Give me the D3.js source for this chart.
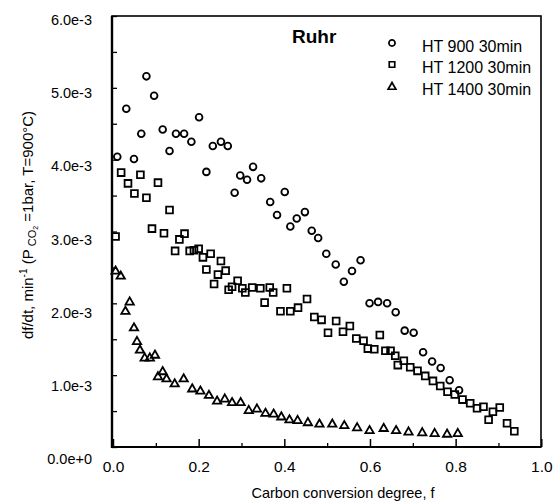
<!DOCTYPE html>
<html>
<head>
<meta charset="utf-8">
<script src="https://cdn.jsdelivr.net/npm/d3@7"></script>
<style>
  html, body { margin: 0; padding: 0; background: #fff; }
  svg { display: block; font-family: "Liberation Sans", Arial, sans-serif; }
</style>
</head>
<body>
<svg id="chart" width="558" height="501"></svg>
<script>
// ---- data (rate in units of 1e-3 min^-1) ----
const ht900F = [0.010,0.031,0.049,0.066,0.078,0.096,0.116,0.132,0.147,0.166,0.183,0.201,0.218,0.233,0.252,0.268,0.284,0.297,0.313,0.327,0.346,0.367,0.383,0.401,0.414,0.429,0.448,0.464,0.479,0.498,0.520,0.539,0.558,0.578,0.599,0.619,0.640,0.660,0.681,0.702,0.724,0.745,0.765,0.786,0.808];
const ht900Rate = [4.04,4.71,4.01,4.36,5.16,4.89,4.42,4.12,4.36,4.36,4.25,4.59,3.83,4.19,4.25,4.19,3.54,3.78,3.72,3.90,3.74,3.41,3.23,3.55,3.07,3.18,3.27,3.01,2.91,2.69,2.54,2.30,2.45,2.60,2.00,2.02,2.00,1.875,1.62,1.59,1.32,1.19,1.10,0.93,0.79];

const ht1200F = [0.006,0.019,0.035,0.050,0.064,0.078,0.091,0.105,0.119,0.132,0.145,0.155,0.167,0.179,0.189,0.200,0.210,0.218,0.228,0.236,0.245,0.252,0.263,0.270,0.278,0.291,0.302,0.309,0.325,0.344,0.354,0.366,0.374,0.391,0.406,0.414,0.432,0.453,0.470,0.487,0.502,0.521,0.537,0.553,0.568,0.585,0.595,0.610,0.623,0.636,0.648,0.659,0.665,0.679,0.694,0.711,0.729,0.747,0.764,0.781,0.798,0.816,0.834,0.850,0.865,0.877,0.887,0.903,0.920,0.937];
const ht1200Rate = [2.93,3.82,3.67,3.53,3.79,3.47,3.04,3.68,2.975,3.30,2.73,2.89,2.97,2.73,2.74,2.76,2.64,2.47,2.69,2.27,2.40,2.59,2.455,2.19,2.23,2.315,2.21,2.15,2.22,2.21,2.01,2.22,2.15,1.89,2.21,1.89,1.94,2.06,1.81,1.77,1.59,1.755,1.605,1.685,1.51,1.48,1.37,1.36,1.56,1.34,1.34,1.27,1.14,1.20,1.11,1.06,0.99,0.92,0.85,0.77,0.73,0.66,0.61,0.54,0.56,0.38,0.49,0.55,0.33,0.22];

const ht1400F = [0.006,0.018,0.029,0.039,0.049,0.056,0.063,0.074,0.086,0.098,0.105,0.116,0.125,0.144,0.165,0.185,0.204,0.224,0.243,0.261,0.278,0.298,0.317,0.336,0.356,0.375,0.393,0.412,0.431,0.455,0.482,0.512,0.540,0.570,0.599,0.632,0.661,0.690,0.722,0.751,0.780,0.805];
const ht1400Rate = [2.46,2.39,1.90,2.03,1.67,1.48,1.36,1.25,1.25,1.29,0.99,1.06,0.96,0.89,0.96,0.82,0.79,0.73,0.65,0.68,0.63,0.63,0.52,0.54,0.48,0.47,0.43,0.39,0.38,0.35,0.33,0.33,0.31,0.28,0.24,0.27,0.24,0.22,0.21,0.20,0.19,0.20];

const seriesNames = ["HT 900 30min", "HT 1200 30min", "HT 1400 30min"];
const seriesSymbols = ["circle", "square", "triangle"];
const xTickValues = [0, 0.2, 0.4, 0.6, 0.8, 1.0];
const xMinorTickValues = [0.1, 0.3, 0.5, 0.7, 0.9];
const yTickValues = [0, 1e-3, 2e-3, 3e-3, 4e-3, 5e-3, 6e-3];
const yMinorTickValues = [0.5e-3, 1.5e-3, 2.5e-3, 3.5e-3, 4.5e-3, 5.5e-3];
const panelTitle = "Ruhr";
const xTitle = "Carbon conversion degree, f";

// ---- layout ----
const svg = d3.select("#chart");
const L = 112, R = 541, T = 16, B = 447;
const x = d3.scaleLinear().domain([0, 1]).range([113, 541.3]);
const y = d3.scaleLinear().domain([0, 6e-3]).range([B, T]);
// label placement scale (labels in the scanned figure sit slightly below their ticks)
const yLab = d3.scaleLinear().domain([0, 6e-3]).range([459, 20]);

const series = [
  {f: ht900F, r: ht900Rate},
  {f: ht1200F, r: ht1200Rate},
  {f: ht1400F, r: ht1400Rate}
].map((s, i) => ({
  name: seriesNames[i],
  sym: seriesSymbols[i],
  pts: s.f.map((fv, j) => ({f: fv, v: s.r[j] * 1e-3}))
}));

const symGen = {
  circle: d3.symbol().type(d3.symbolCircle).size(36),
  square: d3.symbol().type(d3.symbolSquare).size(46),
  triangle: d3.symbol().type(d3.symbolTriangle).size(30)
};

// ---- axes ticks (inside) ----
const gx = svg.append("g").attr("transform", `translate(0,${B})`)
  .call(d3.axisBottom(x).tickValues(xTickValues).tickSize(-8).tickPadding(10)
        .tickFormat(d3.format(".1f")));
gx.select(".domain").remove();
gx.selectAll("line").attr("stroke", "#000").attr("stroke-width", 1.5);
gx.selectAll("text").attr("font-size", 15.5).attr("fill", "#000").attr("dy", "0.95em");

const gxm = svg.append("g").attr("transform", `translate(0,${B})`)
  .call(d3.axisBottom(x).tickValues(xMinorTickValues).tickSize(-4).tickFormat(""));
gxm.select(".domain").remove();
gxm.selectAll("line").attr("stroke", "#000").attr("stroke-width", 1.3);

const gy = svg.append("g").attr("transform", `translate(${L},0)`)
  .call(d3.axisLeft(y).tickValues(yTickValues.concat(yMinorTickValues)).tickSize(-5).tickFormat(""));
gy.select(".domain").remove();
gy.selectAll("line").attr("stroke", "#000").attr("stroke-width", 1.3);

const gyl = svg.append("g").attr("transform", `translate(${L - 20},0)`)
  .call(d3.axisLeft(yLab).tickValues(yTickValues).tickSize(0).tickPadding(0)
        .tickFormat(d3.format(".1e")));
gyl.select(".domain").remove();
gyl.selectAll("text").attr("font-size", 14.5).attr("fill", "#000");

// ---- frame ----
svg.append("rect").attr("x", L).attr("y", T).attr("width", R - L).attr("height", B - T)
  .attr("fill", "none").attr("stroke", "#000").attr("stroke-width", 1.6);
svg.append("line").attr("x1", L).attr("x2", L).attr("y1", T).attr("y2", B + 1)
  .attr("stroke", "#000").attr("stroke-width", 2.4);
svg.append("line").attr("x1", L).attr("x2", R).attr("y1", B).attr("y2", B)
  .attr("stroke", "#000").attr("stroke-width", 2.2);

// ---- points ----
series.forEach(s => {
  svg.append("g").selectAll("path").data(s.pts).join("path")
    .attr("d", symGen[s.sym]())
    .attr("transform", d => `translate(${x(d.f)},${y(d.v) + (s.sym === "triangle" ? 1 : 0)})`)
    .attr("fill", "none").attr("stroke", "#000").attr("stroke-width", 1.8);
});

// ---- title ----
svg.append("text").attr("x", 292).attr("y", 43).attr("font-size", 19).attr("font-weight", "bold")
  .attr("fill", "#000").text(panelTitle);

// ---- legend ----
const legY = d3.scalePoint().domain(seriesNames).range([43, 86]);
const leg = svg.append("g");
series.forEach(s => {
  leg.append("path").attr("d", d3.symbol().type(
      s.sym === "circle" ? d3.symbolCircle : s.sym === "square" ? d3.symbolSquare : d3.symbolTriangle)
      .size(s.sym === "triangle" ? 26 : 30)())
    .attr("transform", `translate(392,${legY(s.name) + (s.sym === "triangle" ? 1 : 0)})`)
    .attr("fill", "none").attr("stroke", "#000").attr("stroke-width", 1.7);
  leg.append("text").attr("x", 422).attr("y", legY(s.name) + 8.5).attr("font-size", 16)
    .attr("fill", "#000").text(s.name);
});

// ---- axis titles ----
svg.append("text").attr("x", 343).attr("y", 498).attr("text-anchor", "middle")
  .attr("font-size", 14.5).attr("fill", "#000").text(xTitle);

const yt = svg.append("text").attr("transform", "translate(33,225) rotate(-90)")
  .attr("text-anchor", "middle").attr("font-size", 15).attr("fill", "#000");
yt.append("tspan").text("df/dt, min");
yt.append("tspan").attr("font-size", 10).attr("dy", -6).text("-1");
yt.append("tspan").attr("dy", 6).text(" (P");
yt.append("tspan").attr("font-size", 11).attr("dy", 3).text(" CO");
yt.append("tspan").attr("font-size", 7).attr("dy", 2).text("2");
yt.append("tspan").attr("dy", -5).text(" =1bar, T=900°C)");
</script>
</body>
</html>
